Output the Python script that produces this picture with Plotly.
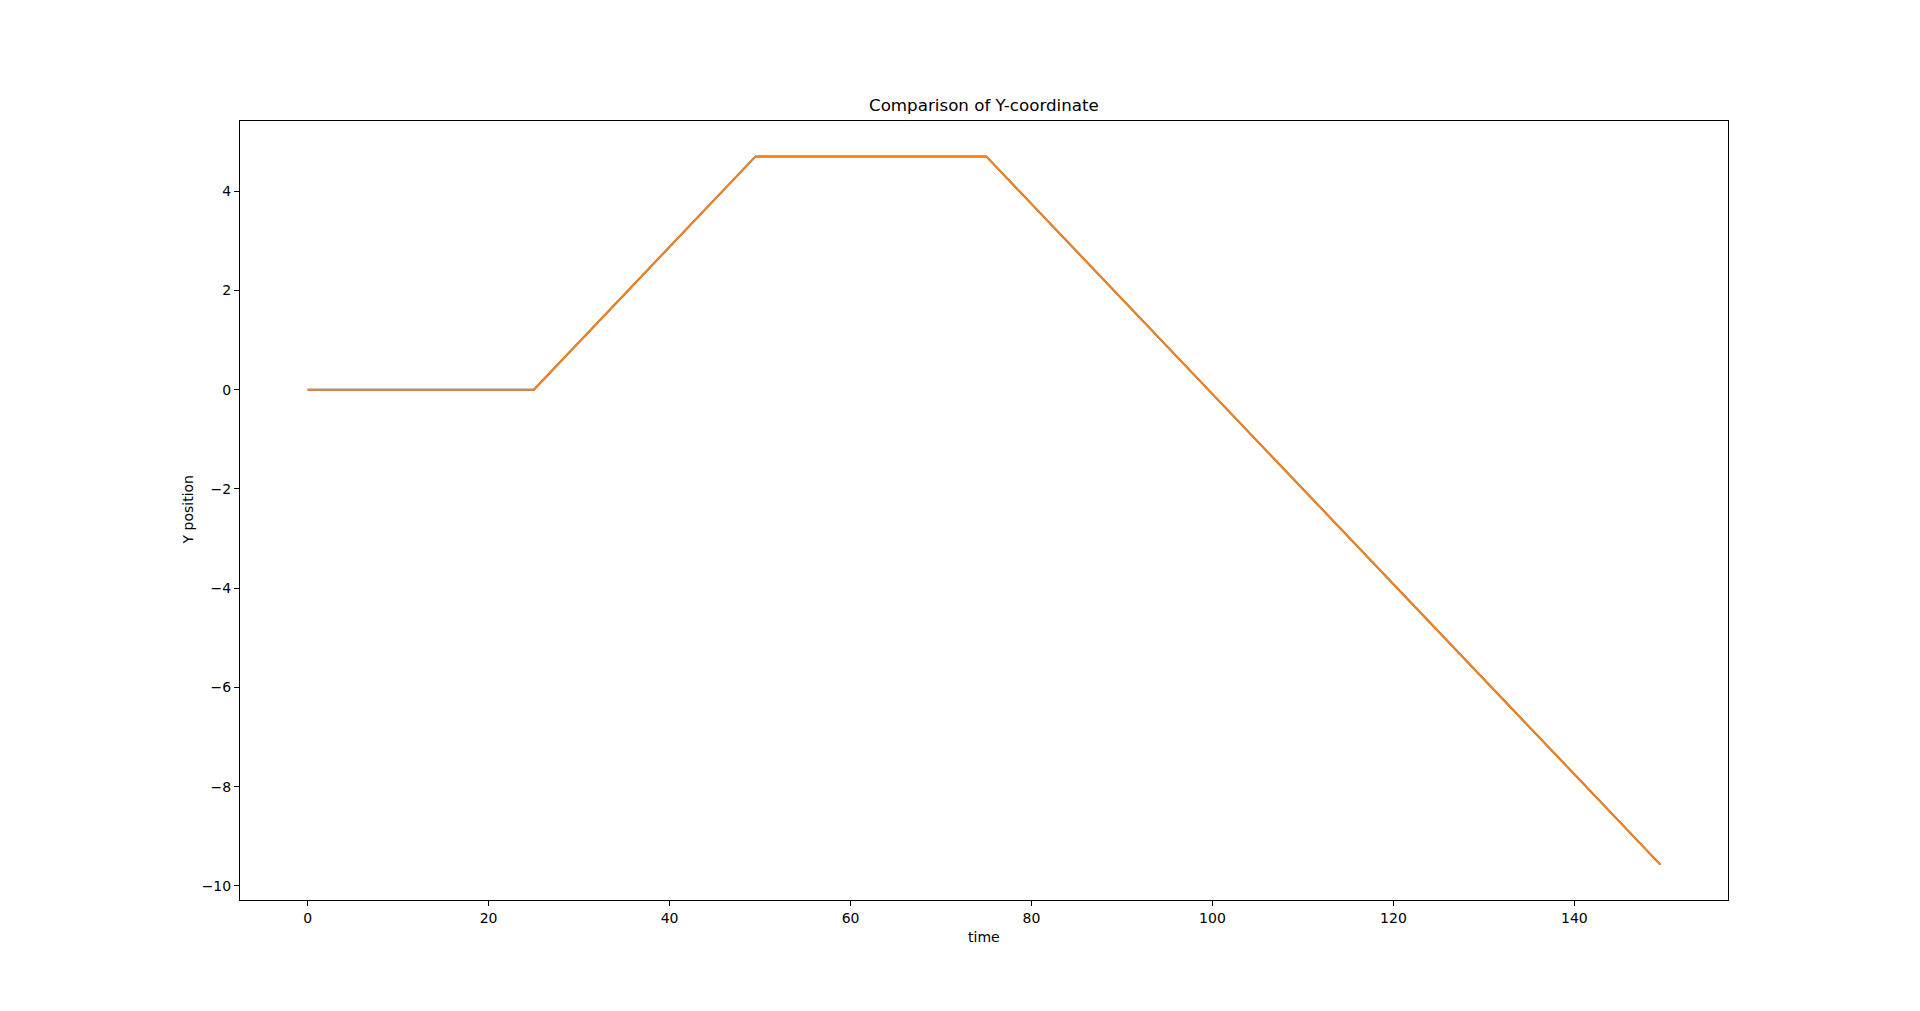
import plotly.graph_objects as go

# vertices of the trajectory
time_vals = [0, 25, 49.5, 75, 149.5]
y_ref = [0, 0, 4.7, 4.7, -9.57]
y_sim = [0, 0, 4.7, 4.7, -9.57]

x_ticks = [0, 20, 40, 60, 80, 100, 120, 140]
y_ticks = [-10, -8, -6, -4, -2, 0, 2, 4]

W, H = 1920, 1011
OFF = 8  # default page body margin
PW, PH = 1488, 779
L, T = 240 - OFF, 121 - OFF
R, B = W - L - PW, H - T - PH

fig = go.Figure()
fig.add_trace(go.Scatter(x=time_vals, y=y_ref, mode="lines",
                         line=dict(color="#1f77b4", width=2), showlegend=False))
fig.add_trace(go.Scatter(x=time_vals, y=y_sim, mode="lines",
                         line=dict(color="#ff7f0e", width=2), showlegend=False))

xmin, xmax = min(time_vals), max(time_vals)
xm = 0.05 * (xmax - xmin)
ally = y_ref + y_sim
ymin, ymax = min(ally), max(ally)
ym = 0.05 * (ymax - ymin)

FS = 14
axis_common = dict(showgrid=False, zeroline=False, showline=True, linecolor="black",
                   linewidth=1, mirror=True, ticks="outside", ticklen=5, tickwidth=1,
                   tickcolor="black", tickfont=dict(family="DejaVu Sans", size=FS, color="black"))

fig.update_xaxes(range=[xmin - xm, xmax + xm], tickvals=x_ticks, **axis_common)
fig.update_yaxes(range=[ymin - ym, ymax + ym], tickvals=y_ticks, **axis_common)

fig.update_layout(
    width=W, height=H,
    margin=dict(l=L, r=R, t=T, b=B, autoexpand=False),
    plot_bgcolor="white", paper_bgcolor="white",
    font=dict(family="DejaVu Sans", size=FS, color="black"),
    annotations=[
        dict(text="Comparison of Y-coordinate", x=0.5, y=1, xref="paper", yref="paper",
             xanchor="center", yanchor="bottom", yshift=4, showarrow=False,
             font=dict(family="DejaVu Sans", size=16.7, color="black")),
        dict(text="time", x=0.5, y=(121 + PH - 937) / PH, xref="paper", yref="paper",
             xanchor="center", yanchor="middle", showarrow=False,
             font=dict(family="DejaVu Sans", size=FS, color="black")),
        dict(text="Y position", x=(187 - 240) / PW, y=0.5, xref="paper", yref="paper",
             xanchor="center", yanchor="middle", textangle=-90, showarrow=False,
             font=dict(family="DejaVu Sans", size=FS, color="black")),
    ],
)

fig.write_html("out.html")
